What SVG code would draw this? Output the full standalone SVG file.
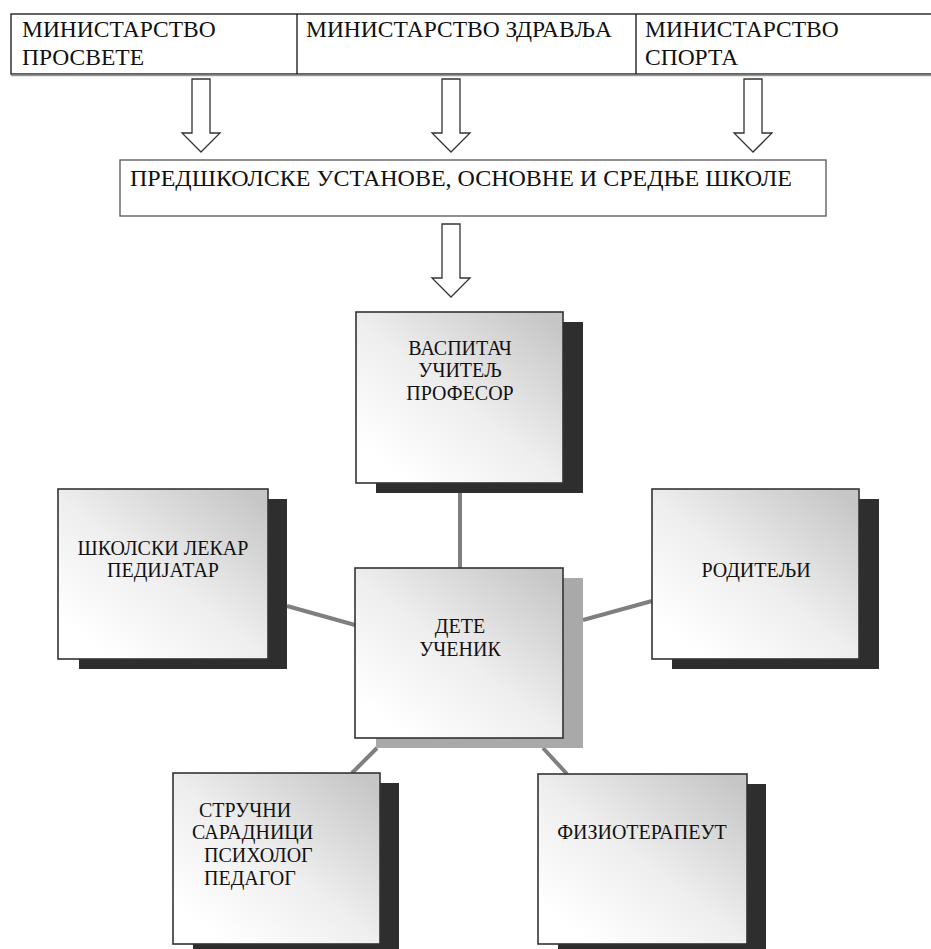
<svg xmlns="http://www.w3.org/2000/svg" width="931" height="949" viewBox="0 0 931 949">
<style>
.t{font-family:"Liberation Serif","Times New Roman",serif;fill:#111}
.top{font-size:23.5px}
.mid{font-size:24px}
.n{font-size:20px;text-anchor:middle}
.ns{font-size:20px}
.cell{fill:#fff;stroke:#111;stroke-width:1.3}
.arrow{fill:#fff;stroke:#333;stroke-width:1.3;stroke-linejoin:miter}
.box{fill:url(#g);stroke:#333;stroke-width:1.6}
.sh{fill:#2e2e2e}
.shl{fill:#a9a9a9}
.con{stroke:#7f7f7f;stroke-width:4;fill:none}
</style>
<defs>
<linearGradient id="g" x1="0.95" y1="0.05" x2="0.15" y2="0.9">
<stop offset="0" stop-color="#c6c6c6"/>
<stop offset="0.55" stop-color="#eeeeee"/>
<stop offset="1" stop-color="#ffffff"/>
</linearGradient>
</defs>
<rect width="931" height="949" fill="#fff"/>
<g id="ministries">
<rect class="cell" x="11" y="14" width="930" height="60"/>
<line x1="11" y1="75.5" x2="931" y2="75.5" stroke="#999" stroke-width="1.5"/>
<line x1="297" y1="14" x2="297" y2="74" stroke="#111" stroke-width="1.3"/>
<line x1="636" y1="14" x2="636" y2="74" stroke="#111" stroke-width="1.3"/>
<text class="t top" x="22" y="37">МИНИСТАРСТВО</text>
<text class="t top" x="22" y="65">ПРОСВЕТЕ</text>
<text class="t top" x="306" y="37">МИНИСТАРСТВО ЗДРАВЉА</text>
<text class="t top" x="645" y="37">МИНИСТАРСТВО</text>
<text class="t top" x="645" y="65">СПОРТА</text>
</g>
<g id="arrows">
<path class="arrow" d="M192,79 H210 V133 H220 L201,152 L182,133 H192 Z"/>
<path class="arrow" d="M442,79 H460 V133 H470 L451,152 L432,133 H442 Z"/>
<path class="arrow" d="M744,79 H762 V133 H772 L753,152 L734,133 H744 Z"/>
<path class="arrow" d="M442,224 H460 V278 H470 L451,297 L432,278 H442 Z"/>
</g>
<g id="schools">
<rect x="120" y="160" width="706" height="56" fill="#fff" stroke="#555" stroke-width="1.3"/>
<text class="t mid" x="130" y="186">ПРЕДШКОЛСКЕ УСТАНОВЕ, ОСНОВНЕ И СРЕДЊЕ  ШКОЛЕ</text>
</g>
<g id="connectors">
<line class="con" x1="460" y1="483" x2="460" y2="568"/>
<line class="con" x1="287" y1="606" x2="355" y2="625"/>
<line class="con" x1="583" y1="620" x2="652" y2="601"/>
<line class="con" x1="377" y1="748" x2="352" y2="773"/>
<line class="con" x1="543" y1="748" x2="567" y2="774"/>
</g>
<g id="teacher">
<rect class="sh" x="376" y="322" width="207" height="171"/>
<rect class="box" x="356" y="312" width="207" height="171"/>
<text class="t n" x="460" y="355">ВАСПИТАЧ</text>
<text class="t n" x="460" y="377">УЧИТЕЉ</text>
<text class="t n" x="460" y="400">ПРОФЕСОР</text>
</g>
<g id="doctor">
<rect class="sh" x="79" y="499" width="208" height="170"/>
<rect class="box" x="58" y="489" width="210" height="170"/>
<text class="t n" x="163" y="555">ШКОЛСКИ ЛЕКАР</text>
<text class="t n" x="163" y="577">ПЕДИЈАТАР</text>
</g>
<g id="child">
<rect class="shl" x="376" y="578" width="207" height="170"/>
<rect class="box" x="355" y="568" width="208" height="170"/>
<text class="t n" x="460" y="633">ДЕТЕ</text>
<text class="t n" x="460" y="656">УЧЕНИК</text>
</g>
<g id="parents">
<rect class="sh" x="672" y="499" width="207" height="170"/>
<rect class="box" x="652" y="489" width="207" height="170"/>
<text class="t n" x="756" y="577">РОДИТЕЉИ</text>
</g>
<g id="associates">
<rect class="sh" x="193" y="783" width="206" height="171"/>
<rect class="box" x="173" y="773" width="207" height="171"/>
<text class="t ns" x="199" y="817">СТРУЧНИ</text>
<text class="t ns" x="192" y="839">САРАДНИЦИ</text>
<text class="t ns" x="204" y="862">ПСИХОЛОГ</text>
<text class="t ns" x="204" y="885">ПЕДАГОГ</text>
</g>
<g id="physio">
<rect class="sh" x="558" y="784" width="208" height="170"/>
<rect class="box" x="538" y="774" width="209" height="170"/>
<text class="t n" x="642" y="839">ФИЗИОТЕРАПЕУТ</text>
</g>
</svg>
